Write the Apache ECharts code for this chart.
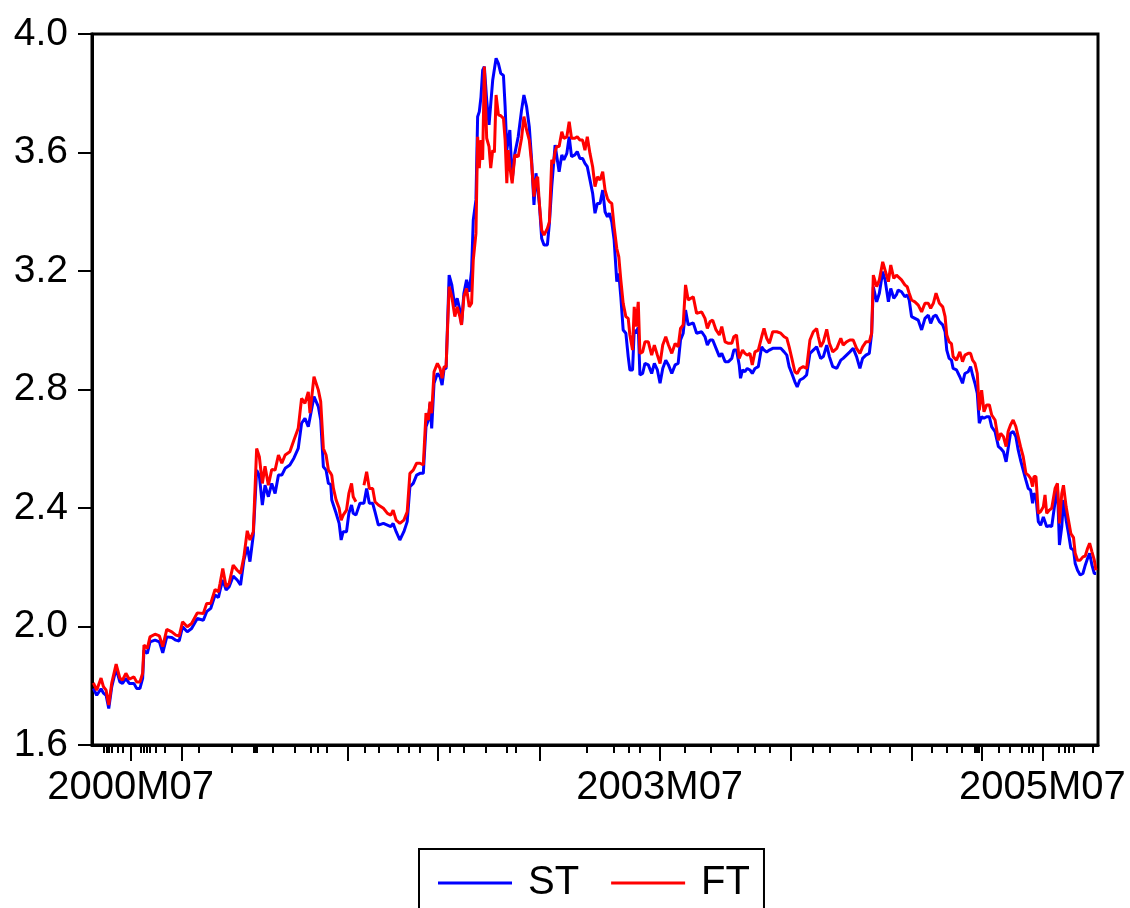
<!DOCTYPE html>
<html>
<head>
<meta charset="utf-8">
<script src="https://cdn.jsdelivr.net/npm/echarts@6/dist/echarts.min.js"></script>
<style>
html,body{margin:0;padding:0;background:#fff;}
#chart{width:1130px;height:908px;}
</style>
</head>
<body>
<div id="chart"></div>
<script>
// observation index (weekly obs, 0..300)
const obs = [
0.4,1.4,2.7,3.4,4.2,5.0,5.9,7.2,8.3,9.1,10.1,11.1,12.5,13.3,14.3,15.1,15.5,16.5,17.3,18.8,20.1,21.1,22.3,23.8,25.0,26.0,27.0,28.4,29.7,31.4,33.2,34.2,35.4,36.7,37.7,38.2,39.0,40.0,40.9,42.1,43.3,44.3,45.3,46.3,47.1,48.1,49.1,49.9,50.8,51.6,52.6,53.6,54.6,55.6,56.6,57.6,59.0,60.2,61.5,62.5,63.5,64.5,
65.0,66.2,67.5,68.2,69.0,69.8,70.5,71.2,71.5,72.0,72.8,73.7,74.3,74.9,75.9,76.6,77.4,77.9,78.7,79.9,81.1,81.9,82.7,83.7,84.4,85.4,86.9,88.1,89.1,89.8,90.7,91.8,93.0,94.0,94.8,95.8,96.8,97.8,98.8,99.6,100.3,100.8,101.3,102.0,103.0,103.8,104.4,105.0,105.6,106.5,107.3,108.2,108.9,109.7,110.2,110.9,111.7,112.5,113.2,113.7,114.5,115.0,115.5,116.0,116.5,117.0,117.7,118.4,118.9,
119.5,120.0,120.5,121.2,121.9,122.7,123.2,123.7,124.1,124.6,125.3,126.1,127.1,128.1,128.8,129.6,130.4,131.1,131.8,132.4,132.9,133.4,134.1,134.8,135.8,136.4,137.1,137.6,138.1,138.6,139.3,140.1,140.7,141.6,142.3,143.0,144.0,144.7,145.5,146.3,147.0,147.7,148.5,149.3,150.0,150.7,151.5,152.3,153.0,153.7,154.3,155.0,155.7,156.5,157.1,157.7,158.4,159.2,159.9,160.4,161.2,161.7,162.2,162.9,163.4,164.2,164.9,165.9,166.9,167.7,168.6,169.4,170.2,171.1,171.9,172.9,173.9,174.8,175.5,176.3,177.0,177.8,
179.3,180.3,181.8,182.8,183.5,184.3,185.1,186.1,187.1,187.8,188.8,189.8,190.8,191.4,192.2,193.0,193.4,194.0,194.7,195.4,196.2,196.9,197.7,198.7,199.7,200.4,201.2,202.0,203.0,204.2,205.4,206.4,207.2,207.9,208.7,209.6,210.3,211.1,212.1,213.1,214.1,215.1,216.1,216.6,217.3,218.1,219.1,219.9,220.9,222.1,223.3,224.0,225.0,226.0,227.0,228.0,229.0,229.8,230.8,231.8,232.5,233.0,234.0,234.8,235.8,236.5,237.5,238.2,239.1,239.9,
240.4,241.4,242.4,243.1,243.7,244.4,245.4,246.4,247.4,248.4,249.4,250.1,250.9,251.7,252.7,253.7,254.4,254.9,255.6,256.3,256.8,257.8,258.8,259.6,260.3,261.3,262.0,262.6,263.3,264.0,264.6,265.3,266.0,266.8,267.6,268.3,269.3,270.3,271.0,271.8,272.6,273.2,273.9,274.7,275.5,276.2,276.9,277.7,278.5,279.2,279.9,280.5,280.9,281.5,282.2,282.9,283.7,284.2,284.7,285.5,286.2,286.7,287.2,287.9,288.5,289.2,289.7,290.5,291.2,291.9,292.7,293.2,293.9,294.7,295.5,296.2,296.9,297.5,298.2,298.9,299.4
];

const stValues = [
1.791,1.768,1.790,1.775,1.768,1.723,1.797,1.858,1.813,1.808,1.825,1.808,1.808,1.791,1.791,1.825,1.920,1.909,1.948,1.954,1.948,1.911,1.965,1.963,1.954,1.951,1.999,1.982,1.993,2.027,2.021,2.050,2.061,2.106,2.098,2.123,2.157,2.123,2.134,2.170,2.157,2.140,2.224,2.269,2.219,2.309,2.528,2.510,2.410,2.477,2.438,2.483,2.449,2.511,2.511,2.534,2.545,2.568,2.601,2.686,2.703,2.674,
2.669,2.776,2.742,2.697,2.539,2.528,2.483,2.480,2.427,2.424,2.382,2.348,2.292,2.320,2.320,2.382,2.410,2.382,2.376,2.416,2.416,2.466,2.416,2.416,2.387,2.342,2.348,2.342,2.337,2.348,2.320,2.292,2.320,2.354,2.472,2.483,2.511,2.517,2.517,2.674,2.697,2.753,2.669,2.821,2.854,2.843,2.815,2.871,2.871,3.186,3.153,3.079,3.108,3.068,3.018,3.125,3.170,3.130,3.203,3.372,3.440,3.721,3.738,3.788,3.878,3.890,3.777,3.693,3.693,
3.845,3.845,3.918,3.900,3.867,3.860,3.755,3.608,3.610,3.676,3.507,3.597,3.653,3.743,3.794,3.755,3.687,3.575,3.423,3.530,3.530,3.428,3.310,3.288,3.288,3.361,3.485,3.485,3.625,3.620,3.535,3.592,3.575,3.597,3.653,3.586,3.592,3.603,3.580,3.580,3.563,3.552,3.507,3.462,3.395,3.428,3.428,3.473,3.400,3.383,3.395,3.366,3.305,3.164,3.192,3.113,3.001,2.990,2.911,2.866,2.866,3.001,2.990,3.010,2.849,2.854,2.888,2.883,2.854,2.888,2.866,2.821,2.871,2.899,2.883,2.854,2.883,2.888,2.967,2.990,3.068,3.018,
3.025,2.990,2.995,2.978,2.950,2.967,2.967,2.939,2.911,2.922,2.894,2.894,2.905,2.933,2.933,2.883,2.838,2.866,2.860,2.871,2.866,2.854,2.871,2.877,2.944,2.933,2.927,2.933,2.939,2.939,2.939,2.927,2.916,2.877,2.854,2.826,2.809,2.832,2.838,2.849,2.922,2.933,2.944,2.927,2.905,2.911,2.950,2.911,2.877,2.871,2.899,2.905,2.916,2.927,2.939,2.911,2.871,2.905,2.916,2.922,2.990,3.147,3.096,3.125,3.198,3.170,3.096,3.141,3.108,3.120,
3.136,3.130,3.113,3.119,3.102,3.046,3.040,3.034,3.001,3.040,3.051,3.023,3.046,3.051,3.029,3.018,2.995,2.933,2.905,2.899,2.871,2.866,2.843,2.821,2.854,2.860,2.877,2.849,2.821,2.787,2.686,2.708,2.703,2.708,2.708,2.674,2.658,2.607,2.601,2.590,2.556,2.601,2.652,2.658,2.641,2.596,2.562,2.528,2.494,2.466,2.461,2.416,2.450,2.438,2.354,2.342,2.370,2.376,2.337,2.340,2.337,2.340,2.421,2.472,2.275,2.337,2.427,2.359,2.314,2.264,2.258,2.213,2.190,2.174,2.179,2.207,2.230,2.247,2.207,2.179,2.179
];

const ftValues = [
1.810,1.785,1.826,1.797,1.785,1.735,1.810,1.873,1.826,1.819,1.842,1.822,1.830,1.813,1.813,1.842,1.937,1.926,1.965,1.974,1.968,1.932,1.990,1.982,1.971,1.968,2.016,1.999,2.010,2.046,2.044,2.078,2.078,2.125,2.117,2.146,2.196,2.134,2.146,2.207,2.190,2.179,2.235,2.323,2.292,2.320,2.601,2.573,2.483,2.541,2.477,2.530,2.528,2.579,2.551,2.579,2.590,2.629,2.669,2.770,2.753,2.792,
2.720,2.843,2.798,2.759,2.601,2.579,2.528,2.517,2.510,2.466,2.427,2.399,2.359,2.376,2.393,2.449,2.483,2.438,2.421,null,2.477,2.522,2.466,2.466,2.421,2.410,2.399,2.382,2.376,2.393,2.359,2.348,2.359,2.387,2.517,2.528,2.551,2.551,2.545,2.720,2.697,2.759,2.720,2.860,2.888,2.871,2.838,2.877,2.877,3.147,3.113,3.046,3.079,3.046,3.018,3.113,3.141,3.079,3.091,3.237,3.327,3.653,3.547,3.642,3.575,3.890,3.648,3.620,3.547,
3.608,3.600,3.794,3.727,3.724,3.715,3.642,3.496,3.608,3.552,3.496,3.592,3.586,3.648,3.721,3.676,3.642,3.563,3.451,3.507,3.518,3.428,3.338,3.321,3.344,3.366,3.575,3.563,3.603,3.620,3.620,3.670,3.648,3.653,3.704,3.648,3.648,3.653,3.642,3.642,3.608,3.653,3.597,3.552,3.485,3.518,3.507,3.535,3.473,3.445,3.434,3.428,3.350,3.276,3.248,3.170,3.091,3.046,3.040,2.984,2.933,3.079,3.012,3.096,2.922,2.927,2.961,2.961,2.916,2.950,2.916,2.888,2.950,2.978,2.950,2.922,2.955,2.944,3.006,3.018,3.153,3.102,
3.113,3.057,3.062,3.040,3.006,3.029,3.034,3.001,2.984,3.012,2.961,2.956,2.956,2.978,2.984,2.905,2.899,2.933,2.922,2.916,2.922,2.883,2.927,2.933,2.978,3.006,2.973,2.956,2.995,2.995,2.990,2.978,2.973,2.944,2.905,2.860,2.854,2.871,2.877,2.871,2.967,2.995,3.006,2.978,2.944,2.961,3.003,2.956,2.927,2.939,2.973,2.950,2.961,2.967,2.967,2.939,2.922,2.944,2.961,2.961,2.990,3.186,3.147,3.170,3.231,3.203,3.164,3.220,3.175,3.186,
3.186,3.170,3.153,3.147,3.125,3.102,3.096,3.085,3.062,3.091,3.091,3.074,3.091,3.125,3.091,3.079,3.046,2.984,2.961,2.955,2.911,2.899,2.927,2.894,2.916,2.922,2.922,2.899,2.888,2.854,2.730,2.798,2.725,2.748,2.748,2.714,2.697,2.629,2.652,2.641,2.607,2.658,2.680,2.697,2.675,2.641,2.607,2.573,2.517,2.511,2.500,2.472,2.506,2.506,2.382,2.388,2.404,2.444,2.382,2.393,2.399,2.393,2.466,2.483,2.348,2.449,2.477,2.404,2.359,2.314,2.300,2.247,2.224,2.224,2.235,2.238,2.264,2.281,2.252,2.224,2.190
];

// x-axis tick marks (observation index) and labels
const minorTicks = [3.5,4.3,5.0,5.8,7.7,9.3,14.6,15.4,16.2,17.1,18.9,21.6,31.7,41.8,48.2,48.7,49.2,54.0,60.4,65.2,67.4,70.0,81.2,85.5,91.3,94.5,97.7,106.8,111.0,117.4,123.8,126.5,147.6,155.5,160.0,163.3,176.8,184.6,192.5,197.5,202.0,214.9,220.0,228.4,232.3,237.9,250.3,254.8,259.3,263.2,263.7,264.3,270.5,273.8,277.2,279.4,280.6,288.4,290.1,291.2,292.9,298.5];
const majorTicks = [11.5,26.9,76.4,103.0,133.4,169.3,208.5,244.4,265.4,283.4];
const xLabelPos = [11.5,169.3,283.4];
const xLabels = ['2000M07','2003M07','2005M07'];

const yMin = 1.6, yMax = 4.0, yStep = 0.4;

const FONT = 'Liberation Sans, Arial, Helvetica, sans-serif';

const chart = echarts.init(document.getElementById('chart'), null, {renderer: 'canvas'});
chart.setOption({
  animation: false,
  backgroundColor: '#ffffff',
  grid: {
    left: 92, right: 32, top: 34, bottom: 163,
    show: true, borderColor: '#000', borderWidth: 3, backgroundColor: 'transparent'
  },
  xAxis: [
    {
      type: 'value', min: 0, max: 300, gridIndex: 0, position: 'bottom',
      axisLine: {show: true, lineStyle: {color: '#000', width: 3}},
      axisTick: {show: true, customValues: minorTicks, length: 8, lineStyle: {color: '#000', width: 2}},
      axisLabel: {show: false},
      splitLine: {show: false}
    },
    {
      type: 'value', min: 0, max: 300, gridIndex: 0, position: 'bottom',
      axisLine: {show: false},
      axisTick: {show: true, customValues: majorTicks, length: 16, lineStyle: {color: '#000', width: 2}},
      axisLabel: {
        show: true, customValues: xLabelPos, margin: 23,
        fontSize: 40, color: '#000', fontFamily: FONT,
        formatter: function (v) {
          const i = xLabelPos.findIndex(p => Math.abs(p - v) < 1e-6);
          return i >= 0 ? xLabels[i] : '';
        }
      },
      splitLine: {show: false}
    }
  ],
  yAxis: {
    type: 'value', min: yMin, max: yMax, interval: yStep,
    axisLine: {show: true, lineStyle: {color: '#000', width: 3}},
    axisTick: {show: true, length: 14, lineStyle: {color: '#000', width: 2}},
    axisLabel: {
      margin: 24, fontSize: 39, color: '#000', fontFamily: FONT,
      formatter: v => v.toFixed(1)
    },
    splitLine: {show: false}
  },
  legend: {
    data: [{name: 'ST', icon: 'rect'}, {name: 'FT', icon: 'rect'}],
    left: 419, top: 849,
    orient: 'horizontal',
    borderColor: '#000', borderWidth: 2,
    padding: [14, 14, 14, 19],
    itemWidth: 74, itemHeight: 3, itemGap: 32,
    textStyle: {fontSize: 40, color: '#000', fontFamily: FONT, padding: [0, 0, 0, 11]}
  },
  series: [
    {
      name: 'ST', type: 'line', xAxisIndex: 0,
      data: obs.map((t, i) => [t, stValues[i]]),
      symbol: 'none', showSymbol: false,
      lineStyle: {color: '#0000ff', width: 3}, itemStyle: {color: '#0000ff'},
      connectNulls: false
    },
    {
      name: 'FT', type: 'line', xAxisIndex: 0,
      data: obs.map((t, i) => [t, ftValues[i] === null ? '-' : ftValues[i]]),
      symbol: 'none', showSymbol: false,
      lineStyle: {color: '#ff0000', width: 3}, itemStyle: {color: '#ff0000'},
      connectNulls: false
    }
  ]
});
</script>
</body>
</html>
